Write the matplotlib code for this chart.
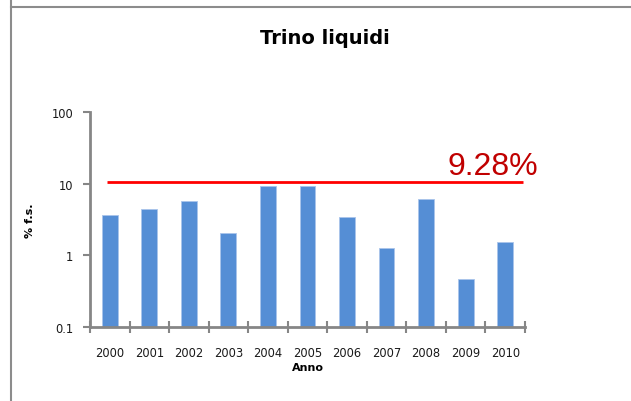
import matplotlib
matplotlib.use('Agg')
import matplotlib.pyplot as plt
from matplotlib.lines import Line2D
from matplotlib.ticker import FixedLocator, NullFormatter

# Data
years = ['2000', '2001', '2002', '2003', '2004', '2005',
         '2006', '2007', '2008', '2009', '2010']
values = [3.65, 4.4, 5.8, 2.05, 9.28, 9.28, 3.4, 1.25, 6.2, 0.47, 1.52]
limit_value = 10.4
limit_label = '9.28%'
y_ticks = [0.1, 1, 10, 100]
y_tick_labels = ['0.1', '1', '10', '100']

axis_gray = '#868686'

fig = plt.figure(figsize=(6.31, 4.02), dpi=100)
fig.patch.set_facecolor('white')
ax = fig.add_axes([0.1426, 0.184, 0.6894, 0.535])

x = list(range(len(years)))
ax.bar(x, values, width=0.4, color='#558ED5', edgecolor='#A9C4EB', linewidth=0.6, zorder=2)

ax.set_yscale('log')
ax.set_ylim(0.1, 100)
ax.set_xlim(-0.5, len(years) - 0.5)
ax.yaxis.set_major_locator(FixedLocator(y_ticks))
ax.set_yticklabels(y_tick_labels)
ax.yaxis.set_minor_locator(FixedLocator([]))
ax.yaxis.set_minor_formatter(NullFormatter())

ax.set_xticks(x)
ax.set_xticklabels(years)
ax.set_xticks([i - 0.5 for i in range(len(years) + 1)], minor=True)
ax.tick_params(axis='x', which='major', length=0, pad=14, labelsize=8.3, colors='#1a1a1a')
ax.tick_params(axis='x', which='minor', direction='inout', length=8, width=1.5, color=axis_gray)
ax.tick_params(axis='y', which='major', direction='out', length=5, width=1.5,
               color=axis_gray, labelsize=8.3, labelcolor='#1a1a1a', pad=7)

for side in ['top', 'right']:
    ax.spines[side].set_visible(False)
for side in ['left', 'bottom']:
    ax.spines[side].set_color(axis_gray)
    ax.spines[side].set_linewidth(2)

# red reference line and label
ax.hlines(limit_value, -0.08, 10.45, color='#FF0000', linewidth=2, zorder=3, clip_on=False)
ax.text(10.82, limit_value * 1.06, limit_label, color='#C00000', fontsize=23,
        family='Liberation Sans', ha='right', va='bottom', clip_on=False)

ax.set_xlabel('Anno', fontsize=8, fontweight='bold', labelpad=2)
ax.set_ylabel('% f.s.', fontsize=8, fontweight='bold', labelpad=12)
fig.text(0.515, 0.905, 'Trino liquidi', ha='center', va='center',
         fontsize=14, fontweight='bold')

# chart frame lines
fig.add_artist(Line2D([11 / 631, 1], [1 - 8 / 402, 1 - 8 / 402],
                      color='#8c8c8c', linewidth=1.5))
fig.add_artist(Line2D([11 / 631, 11 / 631], [0, 1],
                      color='#8c8c8c', linewidth=1.5))

fig.savefig('out.png', dpi=100)
